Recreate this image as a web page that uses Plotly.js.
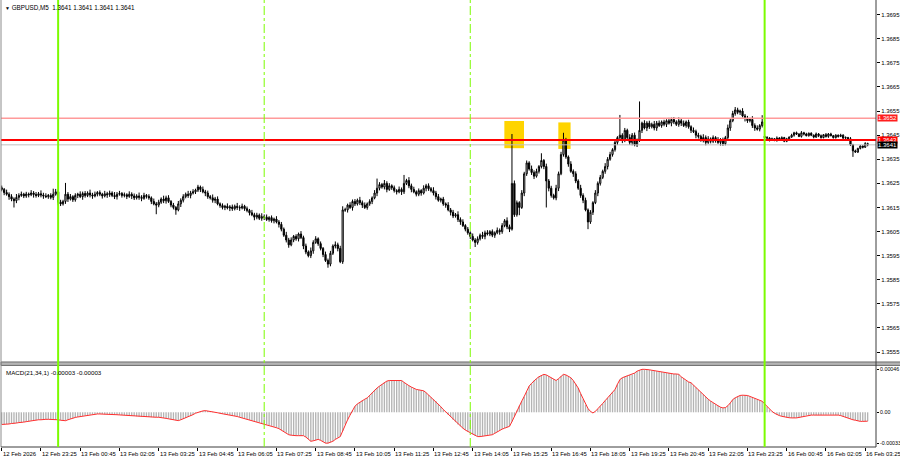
<!DOCTYPE html>
<html><head><meta charset="utf-8">
<script src="https://cdn.plot.ly/plotly-3.0.1.min.js"></script>
<style>html,body{margin:0;padding:0;background:#fff}#chart{width:900px;height:460px}</style>
</head><body><div id="chart"></div>
<script>
// ---- data (GBPUSD M5, bar 0 = 12 Feb 2026 22:05) ----
const openP = [
1.36232,1.36225,1.36212,1.36205,1.36195,1.36185,1.36178,1.36192,1.36200,1.36205,
1.36198,1.36206,1.36203,1.36210,1.36204,1.36200,1.36207,1.36202,1.36198,1.36195,
1.36200,1.36192,1.36205,1.36215,1.36172,1.36165,1.36175,1.36205,1.36185,1.36195,
1.36182,1.36200,1.36205,1.36195,1.36208,1.36200,1.36210,1.36202,1.36198,1.36205,
1.36212,1.36205,1.36198,1.36207,1.36203,1.36210,1.36200,1.36195,1.36205,1.36208,
1.36200,1.36203,1.36196,1.36205,1.36198,1.36190,1.36198,1.36192,1.36188,1.36200,
1.36196,1.36190,1.36175,1.36165,1.36160,1.36172,1.36185,1.36178,1.36190,1.36175,
1.36160,1.36150,1.36140,1.36165,1.36180,1.36195,1.36205,1.36200,1.36210,1.36215,
1.36222,1.36235,1.36225,1.36215,1.36210,1.36195,1.36190,1.36180,1.36185,1.36165,
1.36158,1.36150,1.36155,1.36148,1.36152,1.36145,1.36155,1.36150,1.36148,1.36155,
1.36145,1.36138,1.36128,1.36120,1.36110,1.36118,1.36105,1.36112,1.36110,1.36100,
1.36108,1.36095,1.36102,1.36090,1.36080,1.36060,1.36035,1.36015,1.35995,1.36015,
1.36030,1.36020,1.36040,1.36025,1.35990,1.35965,1.35950,1.35970,1.36005,1.36020,
1.36000,1.35980,1.35955,1.35930,1.35915,1.35960,1.35990,1.35995,1.35980,1.35925,
1.36140,1.36140,1.36160,1.36150,1.36175,1.36165,1.36180,1.36170,1.36160,1.36150,
1.36165,1.36175,1.36190,1.36210,1.36230,1.36245,1.36235,1.36250,1.36225,1.36240,
1.36232,1.36220,1.36215,1.36225,1.36215,1.36250,1.36262,1.36240,1.36225,1.36215,
1.36205,1.36220,1.36210,1.36230,1.36240,1.36228,1.36220,1.36210,1.36195,1.36180,
1.36185,1.36165,1.36160,1.36140,1.36130,1.36115,1.36120,1.36100,1.36090,1.36075,
1.36060,1.36045,1.36030,1.36015,1.36005,1.36020,1.36035,1.36030,1.36045,1.36040,
1.36050,1.36035,1.36045,1.36055,1.36050,1.36075,1.36095,1.36070,1.36060,1.36250,
1.36120,1.36170,1.36150,1.36210,1.36290,1.36335,1.36310,1.36295,1.36280,1.36300,
1.36320,1.36345,1.36320,1.36260,1.36230,1.36200,1.36190,1.36230,1.36290,1.36370,
1.36430,1.36360,1.36330,1.36300,1.36290,1.36260,1.36230,1.36200,1.36180,1.36140,
1.36090,1.36130,1.36170,1.36210,1.36250,1.36275,1.36300,1.36320,1.36350,1.36370,
1.36390,1.36420,1.36440,1.36450,1.36430,1.36470,1.36440,1.36420,1.36450,1.36410,
1.36430,1.36470,1.36500,1.36480,1.36500,1.36485,1.36495,1.36480,1.36500,1.36490,
1.36505,1.36495,1.36510,1.36500,1.36515,1.36505,1.36495,1.36510,1.36500,1.36490,
1.36505,1.36485,1.36470,1.36465,1.36450,1.36445,1.36430,1.36440,1.36420,1.36435,
1.36425,1.36440,1.36430,1.36420,1.36430,1.36415,1.36440,1.36480,1.36510,1.36540,
1.36555,1.36545,1.36550,1.36530,1.36520,1.36510,1.36515,1.36490,1.36480,1.36475,
1.36490,1.36445,1.36440,1.36438,1.36430,1.36435,1.36428,1.36438,1.36432,1.36440,
1.36425,1.36435,1.36442,1.36450,1.36460,1.36455,1.36445,1.36460,1.36455,1.36448,
1.36458,1.36450,1.36442,1.36455,1.36448,1.36440,1.36452,1.36445,1.36455,1.36448,
1.36440,1.36450,1.36445,1.36450,1.36438,1.36440,1.36435,1.36410,1.36385,1.36380,
1.36395,1.36405,1.36400,1.36415];
const highP = [
1.36241,1.36231,1.36224,1.36213,1.36205,1.36192,1.36206,1.36209,1.36216,1.36211,
1.36215,1.36212,1.36222,1.36218,1.36214,1.36214,1.36221,1.36211,1.36209,1.36206,
1.36209,1.36228,1.36227,1.36223,1.36182,1.36182,1.36252,1.36214,1.36206,1.36201,
1.36209,1.36211,1.36217,1.36216,1.36218,1.36217,1.36224,1.36211,1.36216,1.36218,
1.36221,1.36211,1.36219,1.36215,1.36220,1.36217,1.36214,1.36214,1.36219,1.36214,
1.36212,1.36209,1.36217,1.36213,1.36208,1.36205,1.36212,1.36201,1.36211,1.36206,
1.36205,1.36196,1.36187,1.36173,1.36182,1.36192,1.36199,1.36199,1.36201,1.36181,
1.36169,1.36156,1.36177,1.36188,1.36205,1.36212,1.36219,1.36219,1.36226,1.36228,
1.36244,1.36241,1.36237,1.36223,1.36220,1.36202,1.36204,1.36194,1.36196,1.36171,
1.36167,1.36161,1.36167,1.36160,1.36162,1.36162,1.36169,1.36159,1.36166,1.36161,
1.36154,1.36144,1.36140,1.36128,1.36128,1.36125,1.36126,1.36121,1.36121,1.36114,
1.36117,1.36108,1.36114,1.36098,1.36090,1.36067,1.36049,1.36024,1.36026,1.36036,
1.36039,1.36046,1.36052,1.36033,1.36000,1.35972,1.35984,1.36014,1.36031,1.36026,
1.36009,1.35986,1.35967,1.35938,1.35970,1.35997,1.36009,1.36004,1.35991,1.36155,
1.36149,1.36166,1.36172,1.36183,1.36185,1.36187,1.36194,1.36179,1.36171,1.36171,
1.36184,1.36196,1.36222,1.36270,1.36255,1.36252,1.36264,1.36259,1.36251,1.36246,
1.36241,1.36226,1.36237,1.36233,1.36285,1.36269,1.36276,1.36249,1.36236,1.36221,
1.36229,1.36226,1.36242,1.36248,1.36250,1.36235,1.36234,1.36219,1.36206,1.36191,
1.36194,1.36171,1.36172,1.36148,1.36140,1.36127,1.36134,1.36109,1.36101,1.36081,
1.36069,1.36051,1.36042,1.36023,1.36030,1.36042,1.36049,1.36054,1.36056,1.36056,
1.36059,1.36051,1.36067,1.36063,1.36085,1.36102,1.36109,1.36079,1.36455,1.36262,
1.36179,1.36176,1.36222,1.36298,1.36345,1.36342,1.36324,1.36304,1.36311,1.36326,
1.36375,1.36351,1.36332,1.36268,1.36240,1.36207,1.36244,1.36299,1.36381,1.36460,
1.36439,1.36366,1.36342,1.36308,1.36300,1.36267,1.36244,1.36209,1.36191,1.36146,
1.36139,1.36176,1.36222,1.36258,1.36285,1.36307,1.36334,1.36359,1.36381,1.36396,
1.36429,1.36446,1.36534,1.36458,1.36480,1.36477,1.36454,1.36459,1.36461,1.36436,
1.36590,1.36506,1.36512,1.36508,1.36510,1.36502,1.36509,1.36509,1.36511,1.36511,
1.36514,1.36516,1.36522,1.36523,1.36525,1.36512,1.36524,1.36519,1.36511,1.36511,
1.36514,1.36491,1.36482,1.36473,1.36460,1.36452,1.36454,1.36449,1.36446,1.36441,
1.36449,1.36446,1.36442,1.36438,1.36440,1.36447,1.36494,1.36519,1.36551,1.36567,
1.36564,1.36556,1.36562,1.36538,1.36530,1.36522,1.36529,1.36499,1.36491,1.36496,
1.36533,1.36448,1.36446,1.36442,1.36440,1.36438,1.36445,1.36442,1.36445,1.36443,
1.36439,1.36445,1.36456,1.36464,1.36465,1.36458,1.36467,1.36464,1.36460,1.36461,
1.36462,1.36453,1.36461,1.36459,1.36453,1.36455,1.36459,1.36459,1.36460,1.36451,
1.36454,1.36453,1.36456,1.36454,1.36445,1.36443,1.36442,1.36414,1.36390,1.36398,
1.36409,1.36408,1.36421,1.36419];
const lowP = [
1.36217,1.36201,1.36199,1.36182,1.36176,1.36150,1.36168,1.36180,1.36194,1.36189,
1.36190,1.36192,1.36197,1.36191,1.36191,1.36193,1.36192,1.36186,1.36189,1.36186,
1.36184,1.36181,1.36199,1.36159,1.36156,1.36158,1.36165,1.36173,1.36179,1.36173,
1.36174,1.36189,1.36189,1.36182,1.36191,1.36193,1.36192,1.36186,1.36192,1.36196,
1.36197,1.36187,1.36192,1.36190,1.36194,1.36193,1.36185,1.36183,1.36199,1.36191,
1.36192,1.36185,1.36190,1.36185,1.36181,1.36183,1.36182,1.36176,1.36182,1.36187,
1.36182,1.36164,1.36159,1.36122,1.36151,1.36165,1.36168,1.36166,1.36169,1.36151,
1.36142,1.36120,1.36134,1.36152,1.36171,1.36188,1.36190,1.36188,1.36204,1.36206,
1.36214,1.36214,1.36209,1.36197,1.36186,1.36183,1.36170,1.36168,1.36159,1.36149,
1.36142,1.36139,1.36142,1.36135,1.36136,1.36138,1.36140,1.36136,1.36142,1.36136,
1.36130,1.36117,1.36114,1.36097,1.36101,1.36098,1.36095,1.36098,1.36094,1.36091,
1.36087,1.36084,1.36084,1.36067,1.36051,1.36028,1.36005,1.35983,1.35989,1.36006,
1.36012,1.36009,1.36019,1.35977,1.35956,1.35943,1.35940,1.35958,1.35999,1.35991,
1.35972,1.35944,1.35924,1.35900,1.35906,1.35953,1.35980,1.35968,1.35919,1.35916,
1.36132,1.36129,1.36144,1.36137,1.36156,1.36158,1.36160,1.36148,1.36144,1.36141,
1.36157,1.36164,1.36184,1.36197,1.36221,1.36228,1.36225,1.36213,1.36219,1.36223,
1.36212,1.36204,1.36209,1.36202,1.36206,1.36243,1.36230,1.36213,1.36209,1.36196,
1.36197,1.36199,1.36204,1.36217,1.36219,1.36213,1.36200,1.36183,1.36174,1.36171,
1.36157,1.36149,1.36134,1.36117,1.36106,1.36108,1.36090,1.36078,1.36069,1.36051,
1.36037,1.36019,1.36009,1.35986,1.35996,1.36013,1.36020,1.36018,1.36034,1.36031,
1.36027,1.36024,1.36039,1.36037,1.36041,1.36068,1.36060,1.36048,1.36054,1.36111,
1.36112,1.36118,1.36144,1.36197,1.36281,1.36303,1.36285,1.36268,1.36274,1.36291,
1.36312,1.36309,1.36150,1.36217,1.36191,1.36183,1.36180,1.36218,1.36284,1.36361,
1.36352,1.36319,1.36294,1.36277,1.36251,1.36223,1.36190,1.36168,1.36134,1.36060,
1.36082,1.36119,1.36164,1.36197,1.36241,1.36268,1.36290,1.36308,1.36344,1.36361,
1.36382,1.36409,1.36434,1.36417,1.36421,1.36433,1.36410,1.36408,1.36404,1.36401,
1.36422,1.36459,1.36474,1.36467,1.36476,1.36478,1.36470,1.36468,1.36484,1.36481,
1.36487,1.36484,1.36494,1.36487,1.36496,1.36488,1.36485,1.36488,1.36484,1.36481,
1.36477,1.36459,1.36459,1.36437,1.36436,1.36423,1.36420,1.36408,1.36414,1.36416,
1.36417,1.36419,1.36414,1.36407,1.36406,1.36408,1.36430,1.36468,1.36504,1.36531,
1.36537,1.36534,1.36524,1.36507,1.36501,1.36503,1.36480,1.36468,1.36469,1.36466,
1.36482,1.36435,1.36435,1.36424,1.36426,1.36425,1.36423,1.36426,1.36429,1.36421,
1.36421,1.36430,1.36439,1.36444,1.36451,1.36442,1.36440,1.36449,1.36445,1.36444,
1.36446,1.36437,1.36439,1.36442,1.36436,1.36437,1.36440,1.36439,1.36445,1.36436,
1.36436,1.36440,1.36442,1.36432,1.36434,1.36432,1.36405,1.36360,1.36377,1.36376,
1.36391,1.36395,1.36397,1.36404];
const closeP = [
1.36225,1.36212,1.36205,1.36195,1.36185,1.36178,1.36192,1.36200,1.36205,1.36198,
1.36206,1.36203,1.36210,1.36204,1.36200,1.36207,1.36202,1.36198,1.36195,1.36200,
1.36192,1.36205,1.36215,1.36172,1.36165,1.36175,1.36205,1.36185,1.36195,1.36182,
1.36200,1.36205,1.36195,1.36208,1.36200,1.36210,1.36202,1.36198,1.36205,1.36212,
1.36205,1.36198,1.36207,1.36203,1.36210,1.36200,1.36195,1.36205,1.36208,1.36200,
1.36203,1.36196,1.36205,1.36198,1.36190,1.36198,1.36192,1.36188,1.36200,1.36196,
1.36190,1.36175,1.36165,1.36160,1.36172,1.36185,1.36178,1.36190,1.36175,1.36160,
1.36150,1.36140,1.36165,1.36180,1.36195,1.36205,1.36200,1.36210,1.36215,1.36222,
1.36235,1.36225,1.36215,1.36210,1.36195,1.36190,1.36180,1.36185,1.36165,1.36158,
1.36150,1.36155,1.36148,1.36152,1.36145,1.36155,1.36150,1.36148,1.36155,1.36145,
1.36138,1.36128,1.36120,1.36110,1.36118,1.36105,1.36112,1.36110,1.36100,1.36108,
1.36095,1.36102,1.36090,1.36080,1.36060,1.36035,1.36015,1.35995,1.36015,1.36030,
1.36020,1.36040,1.36025,1.35990,1.35965,1.35950,1.35970,1.36005,1.36020,1.36000,
1.35980,1.35955,1.35930,1.35915,1.35960,1.35990,1.35995,1.35980,1.35925,1.36140,
1.36140,1.36160,1.36150,1.36175,1.36165,1.36180,1.36170,1.36160,1.36150,1.36165,
1.36175,1.36190,1.36210,1.36230,1.36245,1.36235,1.36250,1.36225,1.36240,1.36232,
1.36220,1.36215,1.36225,1.36215,1.36250,1.36262,1.36240,1.36225,1.36215,1.36205,
1.36220,1.36210,1.36230,1.36240,1.36228,1.36220,1.36210,1.36195,1.36180,1.36185,
1.36165,1.36160,1.36140,1.36130,1.36115,1.36120,1.36100,1.36090,1.36075,1.36060,
1.36045,1.36030,1.36015,1.36005,1.36020,1.36035,1.36030,1.36045,1.36040,1.36050,
1.36035,1.36045,1.36055,1.36050,1.36075,1.36095,1.36070,1.36060,1.36250,1.36120,
1.36170,1.36150,1.36210,1.36290,1.36335,1.36310,1.36295,1.36280,1.36300,1.36320,
1.36345,1.36320,1.36260,1.36230,1.36200,1.36190,1.36230,1.36290,1.36370,1.36430,
1.36360,1.36330,1.36300,1.36290,1.36260,1.36230,1.36200,1.36180,1.36140,1.36090,
1.36130,1.36170,1.36210,1.36250,1.36275,1.36300,1.36320,1.36350,1.36370,1.36390,
1.36420,1.36440,1.36450,1.36430,1.36470,1.36440,1.36420,1.36450,1.36410,1.36430,
1.36470,1.36500,1.36480,1.36500,1.36485,1.36495,1.36480,1.36500,1.36490,1.36505,
1.36495,1.36510,1.36500,1.36515,1.36505,1.36495,1.36510,1.36500,1.36490,1.36505,
1.36485,1.36470,1.36465,1.36450,1.36445,1.36430,1.36440,1.36420,1.36435,1.36425,
1.36440,1.36430,1.36420,1.36430,1.36415,1.36440,1.36480,1.36510,1.36540,1.36555,
1.36545,1.36550,1.36530,1.36520,1.36510,1.36515,1.36490,1.36480,1.36475,1.36490,
1.36505,1.36440,1.36438,1.36430,1.36435,1.36428,1.36438,1.36432,1.36440,1.36425,
1.36435,1.36442,1.36450,1.36460,1.36455,1.36445,1.36460,1.36455,1.36448,1.36458,
1.36450,1.36442,1.36455,1.36448,1.36440,1.36452,1.36445,1.36455,1.36448,1.36440,
1.36450,1.36445,1.36450,1.36438,1.36440,1.36435,1.36410,1.36385,1.36380,1.36395,
1.36405,1.36400,1.36415,1.36410];
// MACD(21,34,1) main values per bar (signal with period 1 equals main)
const macdVals = [
-13e-5,-13e-5,-12.5e-5,-12.5e-5,-12e-5,-12e-5,-11.5e-5,-11e-5,-11e-5,-10.5e-5,
-10e-5,-9.5e-5,-9e-5,-8.5e-5,-8.5e-5,-8e-5,-8e-5,-7.5e-5,-7.5e-5,-7.5e-5,
-7.5e-5,-7.5e-5,-8e-5,-8e-5,-8.5e-5,-8.5e-5,-9e-5,-8e-5,-7e-5,-6.5e-5,
-5.5e-5,-5e-5,-4.6e-5,-4e-5,-3.5e-5,-3e-5,-2.5e-5,-2.2e-5,-2e-5,-1.8e-5,
-1.8e-5,-1.8e-5,-2e-5,-2e-5,-2.2e-5,-2.3e-5,-2.5e-5,-2.6e-5,-2.8e-5,-3e-5,
-3e-5,-3.2e-5,-3.5e-5,-3.8e-5,-4e-5,-4.3e-5,-4.6e-5,-4.8e-5,-5e-5,-5e-5,
-5e-5,-5.2e-5,-5.2e-5,-5.3e-5,-5.3e-5,-5.5e-5,-6e-5,-6.5e-5,-7e-5,-7.5e-5,
-8e-5,-8.5e-5,-8.9e-5,-8e-5,-7e-5,-6e-5,-5e-5,-4e-5,-2.5e-5,-1e-5,
0,1e-5,1.5e-5,1.8e-5,1.5e-5,1e-5,0.5e-5,0,-0.5e-5,-1.1e-5,
-1.5e-5,-2e-5,-2.5e-5,-3e-5,-3.5e-5,-4e-5,-4.5e-5,-5.3e-5,-6e-5,-6.8e-5,
-7.5e-5,-8.3e-5,-9e-5,-10e-5,-10.5e-5,-11e-5,-11.8e-5,-12.5e-5,-13e-5,-13.6e-5,
-14.5e-5,-15.5e-5,-16.5e-5,-17.5e-5,-19e-5,-20.7e-5,-22e-5,-24e-5,-24.5e-5,-25e-5,
-25e-5,-25e-5,-25e-5,-25e-5,-26.5e-5,-28.5e-5,-31e-5,-30.5e-5,-30e-5,-29e-5,
-30e-5,-31.5e-5,-33e-5,-33e-5,-32e-5,-31e-5,-29e-5,-27e-5,-26e-5,-20e-5,
-13e-5,-8e-5,-3e-5,2e-5,6.5e-5,9e-5,11e-5,12.5e-5,14e-5,15.4e-5,
18e-5,21e-5,24e-5,26e-5,28e-5,30e-5,32e-5,33.4e-5,34e-5,34e-5,
34e-5,34e-5,34e-5,34e-5,32e-5,30e-5,28.5e-5,27e-5,25.5e-5,24.5e-5,
24e-5,23.5e-5,23e-5,21e-5,18.5e-5,16e-5,14e-5,12e-5,9e-5,6e-5,
3e-5,0.5e-5,-2.5e-5,-5e-5,-8e-5,-10.5e-5,-13e-5,-15e-5,-17e-5,-19e-5,
-20.5e-5,-22e-5,-23.5e-5,-25e-5,-26e-5,-26e-5,-25.5e-5,-25e-5,-24.5e-5,-24e-5,
-24e-5,-22.5e-5,-21e-5,-19e-5,-18e-5,-17e-5,-16e-5,-15e-5,-10e-5,-4.3e-5,
2e-5,7e-5,12e-5,17e-5,22e-5,28e-5,31e-5,34e-5,36e-5,38e-5,
39.5e-5,40.6e-5,40e-5,38.5e-5,37e-5,35.5e-5,34e-5,36e-5,38.5e-5,40.6e-5,
40e-5,38.5e-5,37e-5,34e-5,30e-5,26e-5,20e-5,14e-5,8e-5,4e-5,
1e-5,-0.7e-5,1e-5,3.5e-5,6.5e-5,9.5e-5,12.5e-5,15.4e-5,18.5e-5,21.5e-5,
24.4e-5,30e-5,35e-5,37e-5,38e-5,39e-5,40e-5,40.5e-5,42e-5,44e-5,
45e-5,46e-5,46e-5,46e-5,45.5e-5,45e-5,44.5e-5,44e-5,43.5e-5,43e-5,
42.5e-5,42e-5,42e-5,41.5e-5,41e-5,41e-5,40.6e-5,38e-5,36e-5,34e-5,
32.5e-5,31.6e-5,29e-5,26.5e-5,24e-5,21.5e-5,19e-5,16.5e-5,14e-5,12e-5,
10e-5,8.5e-5,7e-5,5.5e-5,4.7e-5,5e-5,7e-5,10e-5,13.6e-5,15.5e-5,
17e-5,18e-5,18.3e-5,18.3e-5,18e-5,17e-5,16e-5,14.7e-5,13.5e-5,12.5e-5,
11.8e-5,9e-5,6e-5,3e-5,1e-5,-1e-5,-2.5e-5,-3.5e-5,-4.3e-5,-5e-5,
-5.5e-5,-5.8e-5,-6e-5,-6.1e-5,-6e-5,-5.5e-5,-5e-5,-4e-5,-3.2e-5,-3e-5,
-3e-5,-3e-5,-3e-5,-3e-5,-2.8e-5,-2.6e-5,-2.5e-5,-2.5e-5,-2.5e-5,-2.6e-5,
-2.8e-5,-3e-5,-3.5e-5,-4.5e-5,-5.4e-5,-6e-5,-7e-5,-8e-5,-8.5e-5,-9.2e-5,
-9.7e-5,-9.7e-5,-9.5e-5,-9.5e-5];

const priceTicks = [1.3555,1.3565,1.3575,1.3585,1.3595,1.3605,1.3615,1.3625,1.3635,1.3645,1.3655,1.3665,1.3675,1.3685,1.3695];
const priceTickText = ['1.3555','1.3565','1.3575','1.3585','1.3595','1.3605','1.3615','1.3625','1.3635','1.3645','1.3655','1.3665','1.3675','1.3685','1.3695'];
const macdTicks = [0.00046, 0, -0.00033];
const macdTickText = ['0.00046','0.00','-0.00033'];
const xTickIdx = [0,16,32,48,64,80,96,112,128,144,160,176,192,208,224,240,256,272,288,304,320,336,352];
const xTickText = ['12 Feb 2026','12 Feb 23:25','13 Feb 00:45','13 Feb 02:05','13 Feb 03:25','13 Feb 04:45','13 Feb 06:05','13 Feb 07:25','13 Feb 08:45','13 Feb 10:05','13 Feb 11:25','13 Feb 12:45','13 Feb 14:05','13 Feb 15:25','13 Feb 16:45','13 Feb 18:05','13 Feb 19:25','13 Feb 20:45','13 Feb 22:05','13 Feb 23:25','16 Feb 00:45','16 Feb 02:05','16 Feb 03:25'];
const levelLines = [1.3652, 1.3643, 1.3641];
const levelText = ['1.3652','1.3643','1.3641'];
const daySeparators = [23, 311];
const sessionMarks = [107, 191];

const barIndex = closeP.map((_, i) => i);

const FONT = 'Liberation Sans, Arial, sans-serif';
const GREEN = '#7cfc00';

const traces = [
  {type:'bar', x:barIndex, y:macdVals, xaxis:'x', yaxis:'y2', marker:{color:'#b4b4b4', line:{width:0}}, hoverinfo:'skip'},
  {type:'scatter', mode:'lines', x:barIndex, y:macdVals, xaxis:'x', yaxis:'y2', line:{color:'#ff2e2e', width:1}, hoverinfo:'skip'},
  {type:'candlestick', x:barIndex, open:openP, high:highP, low:lowP, close:closeP, xaxis:'x', yaxis:'y',
   increasing:{line:{color:'#000', width:1}, fillcolor:'#ffffff'},
   decreasing:{line:{color:'#000', width:1}, fillcolor:'#000000'},
   whiskerwidth:0, hoverinfo:'skip'}
];

const shapes = [
  {type:'rect', xref:'x', yref:'y', x0:204.9, x1:212.9, y0:1.36396, y1:1.36509, fillcolor:'#ffd400', line:{width:0}, layer:'below'},
  {type:'rect', xref:'x', yref:'y', x0:226.9, x1:231.9, y0:1.36393, y1:1.36503, fillcolor:'#ffd400', line:{width:0}, layer:'below'},
  {type:'line', xref:'paper', yref:'y', x0:0, x1:1, y0:levelLines[0], y1:levelLines[0], line:{color:'#ff9a9a', width:1.5}},
  {type:'line', xref:'paper', yref:'y', x0:0, x1:1, y0:levelLines[2], y1:levelLines[2], line:{color:'#c0c0c0', width:1}},
  {type:'line', xref:'paper', yref:'y', x0:0, x1:1, y0:levelLines[1], y1:levelLines[1], line:{color:'#ff0000', width:2}},
  {type:'rect', xref:'paper', yref:'paper', x0:0, x1:1.03, y0:0.1825, y1:0.1902, fillcolor:'#b4b4b4', line:{color:'#6e6e6e', width:1}},
  {type:'line', xref:'paper', yref:'paper', x0:0, x1:0, y0:0, y1:1, line:{color:'#8c8c8c', width:1}},
  {type:'line', xref:'paper', yref:'paper', x0:1, x1:1, y0:0, y1:1, line:{color:'#3c3c3c', width:1}},
  {type:'line', xref:'paper', yref:'paper', x0:0, x1:1, y0:0, y1:0, line:{color:'#3c3c3c', width:1}}
];
daySeparators.forEach(v => shapes.push({type:'line', xref:'x', yref:'paper', x0:v, x1:v, y0:0, y1:1, line:{color:GREEN, width:2}}));
sessionMarks.forEach(v => shapes.push({type:'line', xref:'x', yref:'paper', x0:v, x1:v, y0:0, y1:1, line:{color:GREEN, width:1, dash:'dashdot'}}));

const annotations = [
  {xref:'paper', yref:'paper', x:0, y:1, xanchor:'left', yanchor:'top', xshift:2, yshift:-2, showarrow:false,
   text:'<span style="font-size:5px">▼</span> GBPUSD,M5  1.3641 1.3641 1.3641 1.3641', font:{family:FONT, size:6.3, color:'#000'}},
  {xref:'paper', yref:'paper', x:0, y:0.1812, xanchor:'left', yanchor:'top', xshift:3, yshift:-1, showarrow:false,
   text:'MACD(21,34,1) -0.00003 -0.00003', font:{family:FONT, size:6.2, color:'#000'}}
];
xTickIdx.forEach((v, k) => annotations.push({xref:'x', yref:'paper', x:v, y:0, xanchor:'left', yanchor:'top', xshift:-1, yshift:-2,
  showarrow:false, text:xTickText[k], font:{family:FONT, size:5.9, color:'#000'}}));
const tagColors = ['#ff1e1e', '#ff0000', '#000000'];
levelLines.forEach((v, k) => annotations.push({xref:'paper', yref:'y', x:1, y:v, xanchor:'left', yanchor:'middle', xshift:1,
  showarrow:false, text:levelText[k], bgcolor:tagColors[k], borderpad:0, font:{family:FONT, size:6, color:'#fff'}}));

const layout = {
  width:900, height:460,
  margin:{l:1, r:24, t:0, b:13},
  paper_bgcolor:'#ffffff', plot_bgcolor:'#ffffff',
  showlegend:false, bargap:0.45,
  font:{family:FONT, size:6, color:'#000'},
  xaxis:{range:[-0.29, 356.4], anchor:'y2', showgrid:false, zeroline:false, showline:false,
         tickvals:xTickIdx, ticks:'outside', ticklen:3, tickcolor:'#000', showticklabels:false,
         rangeslider:{visible:false}, fixedrange:true},
  yaxis:{domain:[0.1902, 1], range:[1.355089, 1.370110], side:'right', showgrid:false, zeroline:false, showline:false,
         tickvals:priceTicks, ticktext:priceTickText, ticks:'outside', ticklen:3, tickcolor:'#000',
         tickfont:{family:FONT, size:6, color:'#000'}},
  yaxis2:{domain:[0, 0.1812], range:[-0.0003713, 0.0004954], side:'right', showgrid:false, zeroline:false, showline:false,
          tickvals:macdTicks, ticktext:macdTickText, ticks:'outside', ticklen:2, tickcolor:'#000',
          tickfont:{family:FONT, size:5.3, color:'#000'}},
  shapes:shapes, annotations:annotations
};

Plotly.newPlot('chart', traces, layout, {displayModeBar:false, staticPlot:true});
</script>
</body></html>
